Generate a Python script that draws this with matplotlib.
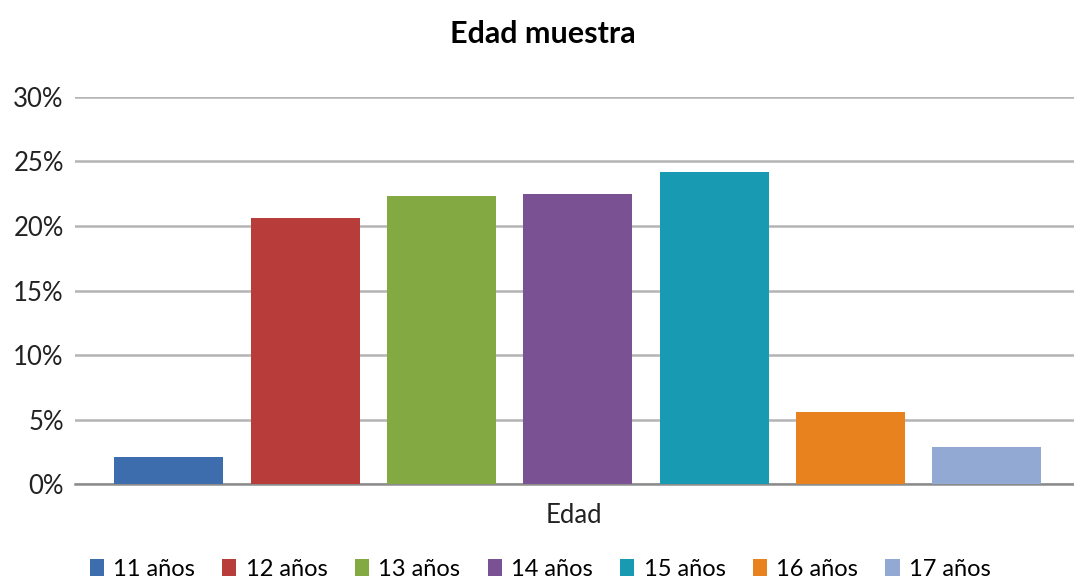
import matplotlib
matplotlib.use("Agg")
import matplotlib.pyplot as plt
from matplotlib.ticker import FuncFormatter, MultipleLocator
from matplotlib.patches import Patch

plt.rcParams['font.family'] = ['Lato', 'DejaVu Sans']

categories = ["11 años", "12 años", "13 años", "14 años", "15 años", "16 años", "17 años"]
values = [2.1, 20.6, 22.3, 22.5, 24.2, 5.6, 2.9]
colors = ["#3E6DAE", "#B83C3A", "#83A942", "#7A5193", "#199AB3", "#E8821F", "#92A9D3"]

fig = plt.figure(figsize=(10.74, 5.78), dpi=100)
ax = fig.add_axes([0.0698, 0.1626, 0.93, 0.6696])

x = list(range(len(categories)))
ax.bar(x, values, width=0.8, color=colors, zorder=3)

ax.set_ylim(0, 30)
ax.set_xlim(-0.69, 6.64)
ax.yaxis.set_major_locator(MultipleLocator(5))
ax.yaxis.set_major_formatter(FuncFormatter(lambda v, p: f"{v:.0f}%"))
ax.grid(axis='y', color='#b4b4b4', linewidth=1.8, zorder=0)
ax.set_xticks([])
for s in ['top', 'right', 'left']:
    ax.spines[s].set_visible(False)
ax.spines['bottom'].set_color('#8c8c8c')
ax.spines['bottom'].set_linewidth(1.8)
ax.tick_params(axis='y', length=0, labelsize=18.5, pad=8, colors='#222222')

ax.set_xlabel("Edad", fontsize=18.5, labelpad=14, color='#222222')
fig.suptitle("Edad muestra", fontsize=22, fontweight='bold', y=0.965, x=0.505)

handles = [Patch(facecolor=c, label=l) for c, l in zip(colors, categories)]
fig.legend(handles=handles, loc='lower center', ncol=7, frameon=False,
           fontsize=17, bbox_to_anchor=(0.503, -0.04), handlelength=0.6,
           handleheight=0.75, handletextpad=0.4, columnspacing=1.15)

fig.savefig("out.png", dpi=100)
